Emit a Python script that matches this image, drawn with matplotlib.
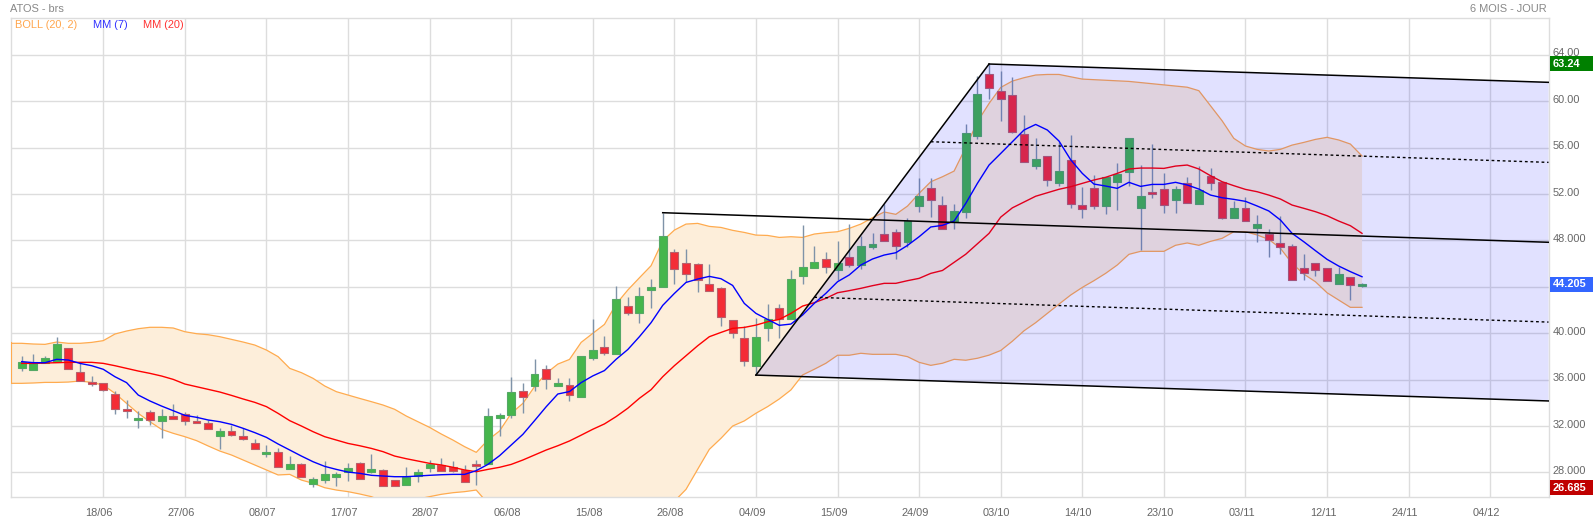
#---Candlestick chart with Bollinger bands, moving averages and a pitchfork----------------
import matplotlib
matplotlib.use("Agg")
import matplotlib.pyplot as plt
from matplotlib.patches import Polygon, Rectangle
from matplotlib.transforms import ScaledTranslation
import numpy as np

plt.rcParams['font.family'] = ['Liberation Sans', 'DejaVu Sans']

#---Data------------------------------------------------------------------------------------
opens = [37.02,36.85,37.45,37.54,38.69,36.62,35.75,35.67,34.72,33.43,
         32.54,33.23,32.45,32.82,33.00,32.39,32.22,31.16,31.53,31.10,
         30.50,29.60,29.72,28.31,28.68,26.99,27.36,27.59,27.99,28.77,
         28.02,28.17,27.30,26.93,27.65,28.40,28.63,28.45,28.20,28.71,
         28.71,32.68,32.94,35.01,35.47,36.87,35.47,35.50,34.52,37.88,
         38.77,38.22,42.30,41.76,43.74,44.00,46.96,46.01,45.92,44.20,
         43.86,41.10,39.54,37.19,40.47,42.13,41.18,44.95,45.64,46.36,
         45.44,46.53,45.90,47.45,48.54,48.68,47.88,50.98,52.48,51.01,
         49.54,50.41,57.02,62.30,60.84,60.49,57.13,54.43,55.24,52.97,
         54.92,51.04,52.48,50.98,53.05,53.92,50.81,52.16,52.39,51.50,
         52.91,51.16,53.54,53.00,49.95,50.76,49.09,48.51,47.74,47.48,
         45.58,46.01,45.58,44.26,44.81,44.03]
closes = [37.48,37.54,37.82,39.03,36.93,35.90,35.64,35.06,33.48,33.25,
          32.65,32.48,32.82,32.62,32.39,32.28,31.76,31.53,31.24,30.84,
          29.98,29.72,28.48,28.71,27.62,27.39,27.85,27.85,28.34,27.45,
          28.28,26.84,26.84,27.59,28.02,28.71,28.14,28.14,27.19,28.51,
          32.85,32.94,34.92,34.52,36.47,36.01,35.69,34.64,38.03,38.54,
          38.31,42.94,41.76,43.19,43.97,48.37,45.55,45.12,44.54,43.65,
          41.41,40.03,37.62,39.66,41.18,41.18,44.63,45.67,46.10,45.72,
          46.01,45.90,47.51,47.68,47.97,47.48,49.69,51.82,51.44,48.94,
          50.49,57.22,60.58,61.10,60.18,57.30,54.72,54.98,53.17,54.00,
          51.15,50.73,50.98,53.43,53.71,56.82,51.79,52.02,51.07,52.39,
          51.24,52.37,52.97,49.95,50.78,49.69,49.40,48.00,47.45,44.61,
          45.21,45.47,44.52,45.07,44.17,44.205]
highs = [38.02,38.20,38.02,39.63,38.69,37.48,36.30,35.73,35.01,34.23,
         33.25,33.34,33.48,33.89,33.23,32.94,32.51,31.82,32.08,31.79,
         30.84,30.32,30.09,29.40,28.83,27.62,28.97,28.05,28.83,28.88,
         29.57,28.28,27.30,28.45,28.28,29.06,29.26,28.97,28.63,29.06,
         33.54,33.14,36.18,35.67,37.76,37.25,36.16,36.16,38.03,41.21,
         39.75,44.06,43.11,43.94,44.66,50.38,47.22,47.25,46.01,45.95,
         44.00,41.13,40.64,41.33,42.50,42.50,45.41,49.31,47.51,46.96,
         47.94,49.40,48.37,48.60,51.10,48.94,49.89,53.37,53.37,51.82,
         51.10,57.99,62.16,63.20,62.59,62.05,58.80,56.79,55.24,56.50,
         57.08,52.62,53.63,53.43,54.66,56.82,54.49,56.30,53.80,52.71,
         53.46,54.40,54.23,53.00,51.39,51.70,50.18,48.97,50.09,47.68,
         46.82,46.01,45.64,45.73,44.86,44.30]
lows = [36.76,36.82,37.39,37.54,36.90,35.90,35.47,35.04,33.05,32.71,
        31.85,32.08,30.99,32.56,32.08,32.28,31.76,30.01,31.16,30.75,
        29.98,29.35,28.48,28.34,27.62,26.76,27.10,26.82,27.28,27.45,
        27.91,26.84,26.84,26.93,27.19,28.05,28.14,28.02,27.19,26.93,
        28.71,31.13,32.65,33.14,35.03,35.18,35.47,34.15,34.52,37.68,
        38.11,38.22,41.56,40.90,42.19,44.00,44.23,44.43,43.57,43.65,
        40.61,39.60,37.19,36.38,39.34,39.60,41.18,44.23,45.58,45.21,
        44.58,45.67,45.55,47.25,47.97,46.39,47.45,50.44,49.98,48.94,
        49.00,49.92,56.76,60.18,58.31,57.28,54.72,54.14,52.68,52.68,
        50.81,49.95,50.73,50.30,50.61,52.71,47.16,51.67,50.38,50.38,
        51.24,51.19,52.34,49.81,49.95,49.69,47.88,46.56,46.85,44.61,
        44.61,44.95,44.52,44.26,42.88,44.00]
boll_up = [39.12,39.06,39.03,39.23,39.12,39.12,39.20,39.35,39.92,40.18,
           40.38,40.50,40.50,40.44,40.12,39.95,39.86,39.69,39.46,39.23,
           38.97,38.54,37.97,36.96,36.59,36.10,35.44,34.95,34.66,34.37,
           34.09,33.80,33.43,32.85,32.36,31.87,31.30,30.78,30.21,29.72,
           30.78,31.56,33.08,33.94,35.38,36.53,37.33,37.73,39.20,39.98,
           40.75,42.50,43.71,44.77,45.81,47.96,48.88,49.40,49.46,49.20,
           49.11,48.86,48.68,48.45,48.42,48.25,48.31,48.25,48.54,48.66,
           48.74,49.03,49.40,49.95,50.44,50.24,50.95,52.05,53.05,53.48,
           53.97,56.01,58.22,59.80,61.18,61.73,62.02,62.25,62.30,62.30,
           62.10,61.90,61.85,61.80,61.75,61.70,61.60,61.50,61.40,61.30,
           61.20,60.90,59.60,58.30,56.79,56.13,55.84,55.70,55.84,56.21,
           56.44,56.70,56.88,56.65,56.30,55.27]
boll_lo = [35.67,35.70,35.75,35.75,35.78,35.87,35.75,35.52,34.81,33.94,
           33.08,32.36,31.70,31.36,31.07,30.73,30.27,29.83,29.49,29.06,
           28.63,28.20,27.77,27.82,27.33,27.05,26.67,26.47,26.33,26.13,
           25.90,25.50,25.30,25.40,25.70,25.90,26.10,26.24,26.33,26.47,
           25.32,24.90,24.30,23.90,23.60,23.30,23.10,23.00,23.00,23.20,
           23.40,23.70,24.00,24.30,24.70,25.00,25.50,26.53,28.26,29.98,
           30.93,31.99,32.43,33.09,33.66,34.32,35.10,36.39,36.88,37.40,
           38.09,38.09,38.26,38.17,38.17,38.17,37.97,37.48,37.22,37.40,
           37.74,37.66,37.83,38.10,38.50,39.30,40.20,40.90,41.70,42.50,
           43.28,43.94,44.52,45.15,45.87,46.79,47.05,47.05,47.05,47.57,
           47.77,47.57,47.91,48.17,48.74,48.74,48.46,48.08,47.31,46.01,
           45.09,44.43,43.48,42.85,42.22,42.22]
mm7 = [37.54,37.45,37.45,37.74,37.68,37.39,37.19,36.88,36.24,35.73,
       34.66,34.15,33.71,33.31,32.91,32.74,32.51,32.36,32.13,31.79,
       31.42,31.01,30.44,29.92,29.40,28.91,28.51,28.25,28.02,27.91,
       27.74,27.68,27.62,27.62,27.68,27.74,27.79,27.82,27.82,28.14,
       28.68,29.43,30.35,31.27,32.45,33.65,34.75,34.96,35.73,36.31,
       36.77,37.74,38.58,39.69,40.90,42.39,43.42,44.37,44.66,44.89,
       44.69,44.11,42.56,41.70,41.18,40.67,40.78,41.56,42.56,43.43,
       44.43,45.01,45.87,46.39,46.73,46.93,47.56,48.31,49.15,49.29,
       49.66,51.18,52.91,54.49,55.49,56.50,57.51,57.99,57.51,56.56,
       54.95,53.77,52.85,52.68,52.48,53.00,52.65,52.82,52.82,53.00,
       52.77,52.42,51.90,51.67,51.53,51.36,50.96,50.53,49.75,48.60,
       47.88,47.11,46.36,45.78,45.30,44.86]
mm20 = [37.39,37.39,37.42,37.45,37.48,37.48,37.48,37.39,37.19,36.96,
        36.73,36.53,36.30,36.01,35.61,35.38,35.15,34.92,34.63,34.32,
        34.03,33.66,33.08,32.45,31.99,31.50,31.07,30.78,30.49,30.29,
        30.06,29.78,29.40,29.17,28.97,28.77,28.63,28.43,28.20,28.05,
        28.25,28.43,28.68,29.06,29.49,29.92,30.29,30.70,31.20,31.71,
        32.17,32.80,33.52,34.38,35.12,36.24,37.19,38.05,38.91,39.69,
        40.06,40.41,40.49,40.69,40.98,41.18,41.70,42.33,42.62,43.00,
        43.48,43.66,43.86,44.09,44.29,44.29,44.52,44.72,45.15,45.40,
        46.10,46.80,47.70,48.60,50.00,50.80,51.30,51.80,52.10,52.40,
        52.62,52.91,53.20,53.43,53.77,54.15,54.23,54.23,54.20,54.40,
        54.49,54.15,53.57,53.05,52.71,52.39,52.19,51.90,51.56,51.04,
        50.76,50.47,50.12,49.66,49.26,48.60]

date_labels = ['18/06','27/06','08/07','17/07','28/07','06/08','15/08','26/08','04/09',
               '15/09','24/09','03/10','14/10','23/10','03/11','12/11','24/11','04/12']
date_pos = list(range(7, 127, 7))
price_pos = [28, 32, 36, 40, 48, 52, 56, 60, 64]
price_labels = ['28.000', '32.000', '36.000', '40.000', '48.000', '52.00', '56.00', '60.00', '64.00']
grid_prices = [28, 32, 36, 40, 44, 48, 52, 56, 60, 64]

# pitchfork anchors: bar, price at anchor, price at right edge
fork_bars = [55, 63, 83]
fork_start = [50.38, 36.38, 63.20]
fork_end = [47.83, 34.15, 61.62]
mid_bars = [68, 78]
mid_start = [43.09, 56.50]
mid_end = [40.95, 54.72]

last_close = 44.205
chart_high = 63.24
chart_low = 26.685

#---Figure set-up---------------------------------------------------------------------------
W, H = 1593, 521
AW = 1538.0       #axes width in pixels
fg = plt.figure(figsize=(W/100, H/100), dpi=100)
ax = fg.add_axes([10.5/W, 1-497/H, AW/W, 479.5/H])
xMin, xMax = -0.96, 131.0
yMin, yMax = 25.87, 67.21
ax.set_xlim(xMin, xMax)
ax.set_ylim(yMin, yMax)
GRID = '#dddddd'
for s in ax.spines.values():
    s.set_color(GRID)
    s.set_linewidth(1)
for v in grid_prices:
    ax.axhline(v, color=GRID, lw=1, zorder=1)
for v in date_pos:
    ax.axvline(v, color=GRID, lw=1, zorder=1)

#---Bollinger band--------------------------------------------------------------------------
idx = np.arange(len(opens))
band_x = np.r_[xMin, idx]
band_up = np.r_[boll_up[0], boll_up]
band_lo = np.r_[boll_lo[0], boll_lo]
ax.fill_between(band_x, band_lo, band_up, facecolor='#fdeeda', edgecolor='none', zorder=2)
ax.plot(band_x, band_up, color='#ffab4f', lw=0.9, zorder=3)
ax.plot(band_x, band_lo, color='#ffab4f', lw=0.9, zorder=3)
ax.plot([xMin, xMin], [boll_lo[0], boll_up[0]], color='#ffab4f', lw=1.5, zorder=3)

#---Candles---------------------------------------------------------------------------------
ax.vlines(idx, lows, highs, color='#7f93a8', lw=1, zorder=4)
for i in idx:
    up = closes[i] >= opens[i]
    body = abs(closes[i]-opens[i])
    ax.bar(i, body, bottom=min(opens[i], closes[i]), width=0.68,
           facecolor='#46b64c' if up else '#f42c36',
           edgecolor='#55a866' if up else '#b8606c', linewidth=0.8, zorder=5)

#---Moving averages-------------------------------------------------------------------------
ax.plot(idx, mm20, color='#ff0000', lw=1, zorder=6)
ax.plot(idx, mm7, color='#0000ff', lw=1, zorder=6)

#---Pitchfork-------------------------------------------------------------------------------
ax.add_patch(Polygon([(fork_bars[1], fork_start[1]), (fork_bars[2], fork_start[2]),
                      (xMax, fork_end[2]), (xMax, fork_end[1])],
                     closed=True, facecolor='#0000ff', alpha=0.118, edgecolor='none', zorder=7))
ax.plot(fork_bars[1:], fork_start[1:], color='black', lw=1.1, zorder=8)
for b, s, e in zip(fork_bars, fork_start, fork_end):
    ax.plot([b, xMax], [s, e], color='black', lw=1.1, zorder=8)
for b, s, e in zip(mid_bars, mid_start, mid_end):
    ax.plot([b, xMax], [s, e], color='black', lw=1, dashes=(2, 2), zorder=8)

#---Ticks and labels------------------------------------------------------------------------
ax.yaxis.tick_right()
ax.set_xticks(date_pos)
ax.set_xticklabels(date_labels, fontsize=7.9, color='#666666')
ax.set_yticks(price_pos)
ax.set_yticklabels(price_labels, fontsize=7.9, color='#666666')
ax.tick_params(axis='both', length=0)
ax.tick_params(axis='x', pad=8)
ax.tick_params(axis='y', pad=3.2)
shiftx = ScaledTranslation(-4/100, 0, fg.dpi_scale_trans)
for t in ax.get_xticklabels():
    t.set_transform(t.get_transform()+shiftx)
shifty = ScaledTranslation(0, 2.3/100, fg.dpi_scale_trans)
for t in ax.get_yticklabels():
    t.set_transform(t.get_transform()+shifty)

fg.text(10/W, 1-9.5/H, 'ATOS - brs', fontsize=7.9, color='#888888', va='center')
fg.text(1547/W, 1-9.5/H, '6 MOIS - JOUR', fontsize=7.9, color='#888888', va='center', ha='right')
fg.text(15.5/W, 1-25/H, 'BOLL (20, 2)', fontsize=7.9, color='#ffa64d', va='center')
fg.text(93/W, 1-25/H, 'MM (7)', fontsize=7.9, color='#3333ff', va='center')
fg.text(143/W, 1-25/H, 'MM (20)', fontsize=7.9, color='#ff3333', va='center')

#---Price badges on the right---------------------------------------------------------------
tr = ax.get_yaxis_transform()
badge_h = 15/11.6
for val, txt, col in [(chart_high, '63.24', '#008000'),
                      (last_close, '44.205', '#3366ff'),
                      (chart_low, '26.685', '#c00000')]:
    ax.add_patch(Rectangle((1+1.5/AW, val-badge_h/2), 43/AW, badge_h, transform=tr,
                           facecolor=col, edgecolor='none', clip_on=False, zorder=9))
    ax.text(1+4.5/AW, val, txt, transform=tr, fontsize=7.9, color='white', weight='bold',
            va='center', ha='left', zorder=10)

plt.savefig('out.png', dpi=100)
